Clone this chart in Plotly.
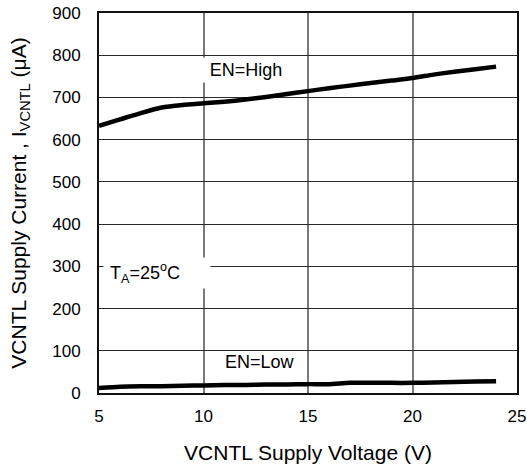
import plotly.graph_objects as go

voltage_high = [5, 6, 7, 8, 9, 10, 11, 12, 13, 14, 15, 16, 17, 18, 19, 20, 21, 22, 23, 24]
current_high = [633, 648, 663, 676, 682, 686, 690, 695, 701, 708, 715, 722, 728, 734, 740, 746, 754, 761, 767, 773]
voltage_low = [5, 6, 7, 8, 9, 10, 11, 12, 13, 14, 15, 16, 17, 18, 19, 20, 21, 22, 23, 24]
current_low = [12, 15, 16, 16, 17, 18, 19, 19, 20, 20, 21, 21, 24, 24, 24, 24, 25, 26, 27, 28]
x_ticks = [5, 10, 15, 20, 25]
y_ticks = [0, 100, 200, 300, 400, 500, 600, 700, 800, 900]

fig = go.Figure()
fig.add_trace(go.Scatter(x=voltage_high, y=current_high, mode="lines",
                         line=dict(color="black", width=4.5, shape="spline", smoothing=0.6), showlegend=False))
fig.add_trace(go.Scatter(x=voltage_low, y=current_low, mode="lines",
                         line=dict(color="black", width=4.5, shape="spline", smoothing=0.6), showlegend=False))

font = dict(family="Liberation Sans, Arial, sans-serif", color="black")

fig.add_annotation(x=12.05, y=765, text="EN=High", showarrow=False, bgcolor="white",
                   width=100, height=22, align="center",
                   font=dict(size=18, **font), borderpad=1, xanchor="center", yanchor="middle")
fig.add_annotation(x=5.2, y=285, text="&nbsp;T<sub>A</sub>=25<sup>o</sup>C", showarrow=False,
                   bgcolor="white", width=104, height=28, align="left",
                   font=dict(size=18, **font), borderpad=1, xanchor="left", yanchor="middle")
fig.add_annotation(x=12.68, y=73, text="EN=Low", showarrow=False,
                   font=dict(size=18, **font), xanchor="center", yanchor="middle")

fig.update_layout(
    width=527, height=471,
    margin=dict(l=99, r=10, t=13, b=78),
    paper_bgcolor="white", plot_bgcolor="white",
    font=font,
    xaxis=dict(range=[5, 25], tickvals=x_ticks, showgrid=True, gridcolor="#7a7a7a", gridwidth=1.5,
               showline=True, linecolor="#111111", linewidth=2, mirror=True, zeroline=False,
               ticks="", ticklabelstandoff=7, tickfont=dict(size=17, **font), automargin=False,
               ticklabeloverflow="allow",
               title=dict(text="VCNTL Supply Voltage (V)", font=dict(size=21, **font), standoff=20)),
    yaxis=dict(range=[0, 900], tickvals=y_ticks, showgrid=True, gridcolor="#2a2a2a", gridwidth=1.2,
               showline=True, linecolor="#111111", linewidth=2, mirror=True, zeroline=False,
               ticks="", ticklabelstandoff=13, tickfont=dict(size=17, **font), automargin=False,
               ticklabeloverflow="allow",
               title=dict(text="VCNTL Supply Current , I<sub>VCNTL</sub> (μA)", font=dict(size=21, **font), standoff=20)),
)

fig.write_html("out.html", config={"displayModeBar": False},
               post_script="document.body.style.margin='0';")
